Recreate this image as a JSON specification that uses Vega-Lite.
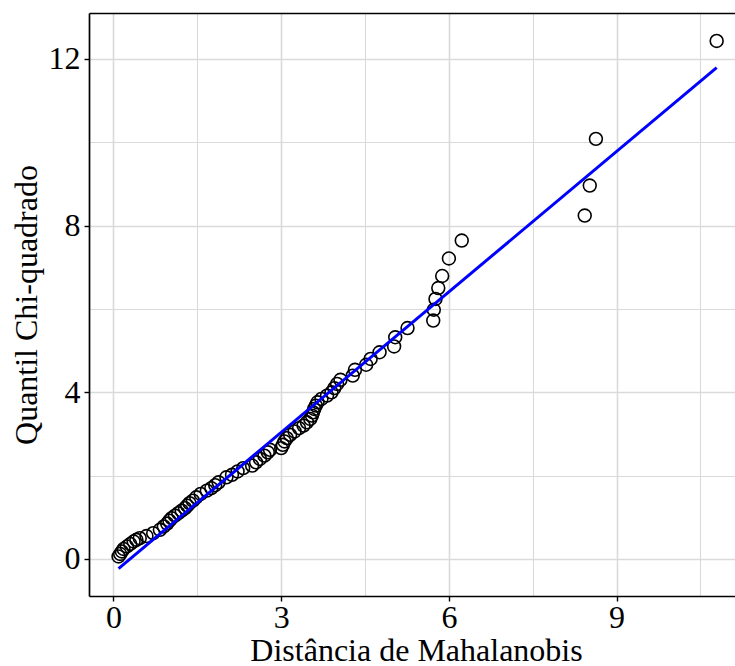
{
  "$schema": "https://vega.github.io/schema/vega-lite/v6.json",
  "width": 646,
  "height": 583,
  "autosize": {"type": "none"},
  "padding": {"left": 89, "top": 13, "right": 0, "bottom": 70},
  "background": "white",
  "config": {
    "view": {"stroke": null},
    "font": "Liberation Serif",
    "axis": {
      "labelFont": "Liberation Serif",
      "titleFont": "Liberation Serif",
      "labelFontSize": 32,
      "titleFontSize": 32,
      "titleFontWeight": "normal",
      "labelColor": "black",
      "titleColor": "black",
      "domainColor": "black",
      "domainWidth": 1.7,
      "tickSize": 5,
      "tickWidth": 1.4,
      "gridColor": "#dadada"
    }
  },
  "datasets": {
    "pts": [
      {"x": 0.09, "y": 0.06}, {"x": 0.12, "y": 0.12}, {"x": 0.15, "y": 0.18}, {"x": 0.18, "y": 0.24},
      {"x": 0.24, "y": 0.30}, {"x": 0.30, "y": 0.36}, {"x": 0.36, "y": 0.42}, {"x": 0.41, "y": 0.46},
      {"x": 0.47, "y": 0.50}, {"x": 0.59, "y": 0.55}, {"x": 0.71, "y": 0.62}, {"x": 0.83, "y": 0.70},
      {"x": 0.90, "y": 0.78}, {"x": 0.96, "y": 0.85}, {"x": 1.00, "y": 0.92}, {"x": 1.04, "y": 0.98},
      {"x": 1.10, "y": 1.04}, {"x": 1.16, "y": 1.10}, {"x": 1.22, "y": 1.16}, {"x": 1.28, "y": 1.22},
      {"x": 1.32, "y": 1.28}, {"x": 1.36, "y": 1.34}, {"x": 1.42, "y": 1.40}, {"x": 1.48, "y": 1.48},
      {"x": 1.56, "y": 1.56}, {"x": 1.67, "y": 1.64}, {"x": 1.75, "y": 1.70}, {"x": 1.82, "y": 1.77},
      {"x": 1.88, "y": 1.84}, {"x": 2.02, "y": 1.96}, {"x": 2.12, "y": 2.02}, {"x": 2.22, "y": 2.10},
      {"x": 2.32, "y": 2.18}, {"x": 2.48, "y": 2.24}, {"x": 2.55, "y": 2.32}, {"x": 2.62, "y": 2.40},
      {"x": 2.70, "y": 2.48}, {"x": 2.76, "y": 2.56}, {"x": 2.80, "y": 2.62}, {"x": 3.00, "y": 2.66},
      {"x": 3.03, "y": 2.74}, {"x": 3.06, "y": 2.82}, {"x": 3.10, "y": 2.90}, {"x": 3.16, "y": 2.98},
      {"x": 3.24, "y": 3.06}, {"x": 3.32, "y": 3.14}, {"x": 3.40, "y": 3.20}, {"x": 3.46, "y": 3.28},
      {"x": 3.52, "y": 3.36}, {"x": 3.55, "y": 3.44}, {"x": 3.57, "y": 3.52}, {"x": 3.59, "y": 3.60},
      {"x": 3.62, "y": 3.68}, {"x": 3.65, "y": 3.76}, {"x": 3.72, "y": 3.84}, {"x": 3.82, "y": 3.92},
      {"x": 3.90, "y": 4.00}, {"x": 3.95, "y": 4.10}, {"x": 4.00, "y": 4.20}, {"x": 4.06, "y": 4.30},
      {"x": 4.28, "y": 4.40}, {"x": 4.32, "y": 4.54}, {"x": 4.52, "y": 4.66}, {"x": 4.60, "y": 4.80},
      {"x": 4.76, "y": 4.96}, {"x": 5.02, "y": 5.10}, {"x": 5.04, "y": 5.32}, {"x": 5.26, "y": 5.54},
      {"x": 5.72, "y": 5.72}, {"x": 5.73, "y": 5.98}, {"x": 5.76, "y": 6.24}, {"x": 5.81, "y": 6.50},
      {"x": 5.88, "y": 6.79}, {"x": 6.00, "y": 7.21}, {"x": 6.23, "y": 7.64}, {"x": 8.43, "y": 8.24},
      {"x": 8.52, "y": 8.96}, {"x": 8.63, "y": 10.08}, {"x": 10.79, "y": 12.43}
    ],
    "fit": [{"x": 0.09, "y": -0.23}, {"x": 10.79, "y": 11.79}]
  },
  "layer": [
    {
      "data": {"name": "pts"},
      "mark": {"type": "point", "shape": "circle", "filled": false, "stroke": "black", "strokeWidth": 1.6, "size": 165, "opacity": 1},
      "encoding": {
        "x": {
          "field": "x", "type": "quantitative",
          "scale": {"domain": [-0.438, 11.118], "nice": false, "zero": false},
          "axis": {
            "orient": "bottom",
            "title": "Distância de Mahalanobis",
            "titleX": 327,
            "titlePadding": 2,
            "labelPadding": 1,
            "values": [0, 1.5, 3, 4.5, 6, 7.5, 9, 10.5],
            "labelExpr": "datum.value % 3 === 0 ? format(datum.value, 'd') : ''",
            "tickColor": {"condition": {"test": "datum.value % 3 !== 0", "value": "transparent"}, "value": "black"},
            "gridWidth": {"condition": {"test": "datum.value % 3 !== 0", "value": 1.1}, "value": 1.6}
          }
        },
        "y": {
          "field": "y", "type": "quantitative",
          "scale": {"domain": [-0.888, 13.10], "nice": false, "zero": false},
          "axis": {
            "title": "Quantil Chi-quadrado",
            "titlePadding": 5,
            "labelPadding": 4,
            "values": [0, 2, 4, 6, 8, 10, 12],
            "labelExpr": "datum.value % 4 === 0 ? format(datum.value, 'd') : ''",
            "tickColor": {"condition": {"test": "datum.value % 4 !== 0", "value": "transparent"}, "value": "black"},
            "gridWidth": {"condition": {"test": "datum.value % 4 !== 0", "value": 1.1}, "value": 1.6}
          }
        }
      }
    },
    {
      "data": {"name": "fit"},
      "mark": {"type": "line", "color": "#0000ff", "strokeWidth": 3},
      "encoding": {
        "x": {
          "field": "x", "type": "quantitative",
          "axis": {"orient": "top", "labels": false, "ticks": false, "grid": false, "domain": true, "title": null}
        },
        "y": {"field": "y", "type": "quantitative"}
      }
    }
  ],
  "resolve": {"axis": {"x": "independent"}}
}
